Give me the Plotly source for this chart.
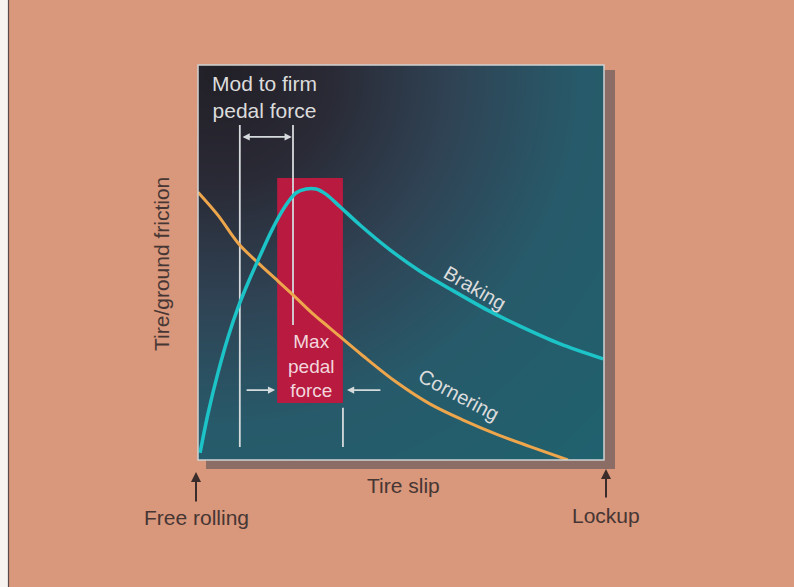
import numpy as np
import plotly.graph_objects as go

# ---- data (axes: slip 0-100, friction 0-100) ----
braking_x = [0.5, 2.5, 4.9, 7.4, 9.9, 12.3, 14.8, 18.2, 21.4, 24.1, 26.6, 29.1, 31.5, 35.0,
             39.9, 47.3, 54.7, 62.1, 71.2, 79.3, 89.2, 99.8]
braking_y = [1.8, 11.9, 22.0, 31.1, 38.7, 44.8, 50.6, 58.2, 64.1, 67.6, 68.6, 68.6, 67.3, 64.1,
             59.5, 53.2, 47.8, 43.3, 38.0, 33.9, 29.4, 25.6]

cornering_x = [0.0, 4.9, 9.9, 14.8, 19.7, 23.9, 28.1, 32.5, 40.6, 49.0, 57.1, 65.3, 73.6, 81.8, 91.1]
cornering_y = [67.8, 62.0, 54.9, 49.9, 45.3, 41.3, 37.2, 33.4, 26.4, 19.6, 14.2, 10.1, 6.5, 3.4, 0.0]

max_pedal_band_x = [19.5, 35.7]    # slip range of the red band
max_pedal_band_y = [14.4, 71.4]
mod_firm_lines = [10.3, 23.4]      # slip positions of the "Mod to firm" limits
max_pedal_right_tick = 35.7

FONT = "Liberation Sans, Arial, Helvetica, sans-serif"
TEXT_LIGHT = "#dcdcdc"
TEXT_DARK = "#463634"
LINE_LIGHT = "#d5dadc"

fig = go.Figure()

# background gradient of the panel
gx = np.linspace(0, 100, 50)
gy = np.linspace(0, 100, 50)
GX, GY = np.meshgrid(gx, gy)
gz = np.sqrt((GX - 5) ** 2 + (GY - 98) ** 2)
fig.add_trace(go.Heatmap(
    x=gx, y=gy, z=gz, zsmooth="best", showscale=False, hoverinfo="skip",
    colorscale=[[0, "#222027"], [0.2, "#2a2a36"], [0.42, "#2f4354"],
                [0.65, "#275a6a"], [1, "#20616e"]],
))

# red band (drawn as a filled trace so it sits under the curves)
bx0, bx1 = max_pedal_band_x
by0, by1 = max_pedal_band_y
fig.add_trace(go.Scatter(x=[bx0, bx1, bx1, bx0, bx0], y=[by0, by0, by1, by1, by0],
                         mode="lines", fill="toself", fillcolor="#b81a40",
                         line=dict(width=0, color="#b81a40"), hoverinfo="skip"))

# white vertical guide lines
guide_x = [mod_firm_lines[0], mod_firm_lines[0], None,
           mod_firm_lines[1], mod_firm_lines[1], None,
           max_pedal_right_tick, max_pedal_right_tick]
guide_y = [3.3, 84.8, None, 34.2, 84.8, None, 3.3, 13.2]
fig.add_trace(go.Scatter(x=guide_x, y=guide_y, mode="lines",
                         line=dict(color=LINE_LIGHT, width=1.8), hoverinfo="skip"))

# curves
fig.add_trace(go.Scatter(x=cornering_x, y=cornering_y, mode="lines", line_shape="spline",
                         line=dict(color="#eea64c", width=3, smoothing=1.0), hoverinfo="skip"))
fig.add_trace(go.Scatter(x=braking_x, y=braking_y, mode="lines", line_shape="spline",
                         line=dict(color="#1cc4c8", width=3.5, smoothing=0.8), hoverinfo="skip"))

# panel border
fig.add_shape(type="rect", xref="paper", yref="paper", x0=0, x1=1, y0=0, y1=1,
              line=dict(color="#cfd2d2", width=1.5), layer="above")

# pixel -> paper helpers
W, H = 794, 587
L, R, T, B = 198, 190, 65, 127
pw, ph = W - L - R, H - T - B
def px(xp):
    return (xp - L) / pw
def py(yp):
    return (H - B - yp) / ph

# drop shadow of the panel
fig.add_shape(type="rect", xref="paper", yref="paper", x0=px(206), x1=px(615), y0=py(469), y1=py(70),
              fillcolor="#8c6d66", line=dict(width=0), layer="below")
# left white strip of the scan
fig.add_shape(type="rect", xref="paper", yref="paper", x0=px(0), x1=px(8), y0=py(587), y1=py(0),
              fillcolor="#f6f3f1", line=dict(width=0), layer="below")
fig.add_shape(type="line", xref="paper", yref="paper", x0=px(8.5), x1=px(8.5), y0=py(587), y1=py(0),
              line=dict(color="#5a4a48", width=1.2), layer="below")

ann = []
# top double arrow
ann.append(dict(x=mod_firm_lines[1] - 0.3, y=81.8, ax=mod_firm_lines[0] + 0.3, ay=81.8,
                xref="x", yref="y", axref="x", ayref="y", text="", showarrow=True,
                arrowhead=2, arrowside="end+start", arrowsize=0.9, arrowwidth=1.6,
                arrowcolor=LINE_LIGHT))
# lower arrows
ann.append(dict(x=bx0 - 0.5, y=17.7, ax=11.6, ay=17.7,
                xref="x", yref="y", axref="x", ayref="y", text="", showarrow=True,
                arrowhead=2, arrowsize=0.9, arrowwidth=1.6, arrowcolor=LINE_LIGHT))
ann.append(dict(x=bx1 + 1.0, y=17.7, ax=45.3, ay=17.7,
                xref="x", yref="y", axref="x", ayref="y", text="", showarrow=True,
                arrowhead=2, arrowsize=0.9, arrowwidth=1.6, arrowcolor=LINE_LIGHT))

def label(x, y, text, size, color, angle=0):
    return dict(x=px(x), y=py(y), xref="paper", yref="paper", text=text, textangle=angle,
                xanchor="center", yanchor="middle", showarrow=False,
                font=dict(family=FONT, size=size, color=color))

# labels inside panel
ann.append(label(264, 97, "Mod to firm<br>pedal force", 21, TEXT_LIGHT))
ann.append(label(311, 366, "Max<br>pedal<br>force", 19, "#f2d6dc"))
ann.append(label(475, 288, "Braking", 20, TEXT_LIGHT, 30))
ann.append(label(459, 395, "Cornering", 20, TEXT_LIGHT, 28))
# outside labels
ann.append(label(161, 264, "Tire/ground friction", 21, TEXT_DARK, -90))
ann.append(label(403, 486, "Tire slip", 21, TEXT_DARK))
ann.append(label(196, 517, "Free rolling", 21, TEXT_DARK))
ann.append(label(606, 515, "Lockup", 21, TEXT_DARK))
# up arrows below the axis
ann.append(dict(x=px(196), y=py(472), ax=0, ay=31, xref="paper", yref="paper",
                axref="pixel", ayref="pixel", text="", showarrow=True, arrowhead=2,
                arrowsize=1, arrowwidth=2, arrowcolor="#3a2c2a"))
ann.append(dict(x=px(606), y=py(469), ax=0, ay=30, xref="paper", yref="paper",
                axref="pixel", ayref="pixel", text="", showarrow=True, arrowhead=2,
                arrowsize=1, arrowwidth=2, arrowcolor="#3a2c2a"))

fig.update_layout(
    width=W, height=H, margin=dict(l=L, r=R, t=T, b=B),
    paper_bgcolor="#d9977b", plot_bgcolor="#2a4a58",
    showlegend=False, annotations=ann,
    xaxis=dict(range=[0, 100], showgrid=False, zeroline=False, showticklabels=False,
               ticks="", fixedrange=True),
    yaxis=dict(range=[0, 100], showgrid=False, zeroline=False, showticklabels=False,
               ticks="", fixedrange=True),
)

fig.write_html("out.html", config={"displayModeBar": False},
               post_script="document.body.style.margin='0px';")
